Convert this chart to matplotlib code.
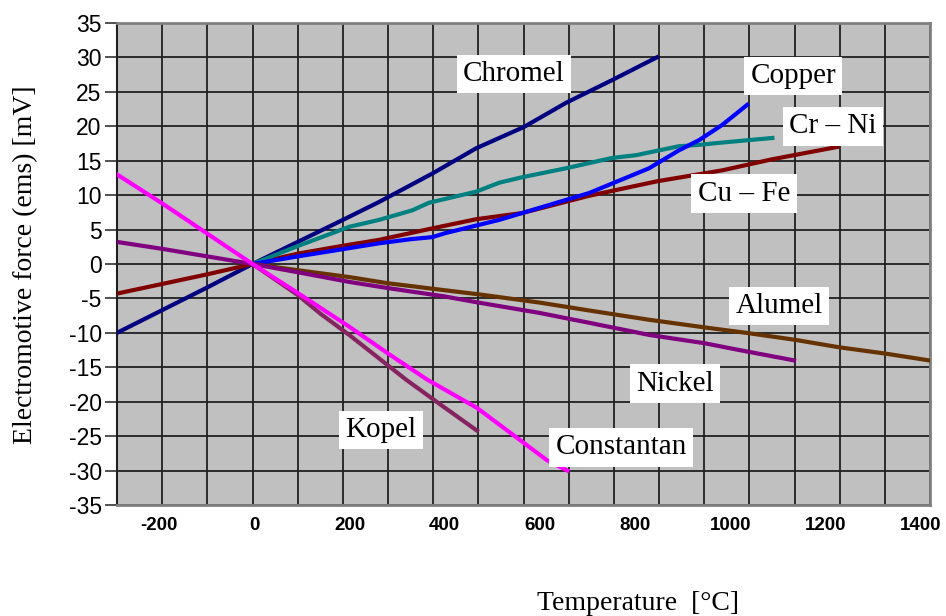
import matplotlib
matplotlib.use("Agg")
from matplotlib import pyplot as plt

# temperature [°C] / emf [mV]
chromel_t = [-300, -200, -100, 0, 100, 200, 280, 400, 495, 601, 694, 796, 895]
chromel_e = [-10.0, -6.7, -3.4, 0, 3.2, 6.4, 9.0, 13.2, 16.8, 19.9, 23.4, 26.7, 30.0]

copper_t = [0, 100, 214, 280, 350, 398, 428, 546, 597, 745, 878, 944, 989, 1040, 1095]
copper_e = [0, 1.1, 2.3, 3.0, 3.6, 3.9, 4.5, 6.4, 7.4, 10.3, 13.9, 16.5, 18.0, 20.2, 23.1]

crni_t = [0, 100, 214, 280, 354, 391, 495, 546, 597, 694, 796, 849, 944, 989, 1034, 1151]
crni_e = [0, 2.6, 5.4, 6.4, 7.8, 8.9, 10.5, 11.8, 12.6, 13.9, 15.4, 15.8, 17.1, 17.3, 17.6, 18.3]

cufe_t = [-300, -200, -100, 0, 100, 214, 280, 400, 495, 597, 745, 895, 1040, 1150, 1295]
cufe_e = [-4.3, -2.9, -1.5, 0, 1.5, 2.8, 3.5, 5.2, 6.5, 7.4, 9.9, 12.0, 13.6, 15.2, 17.0]

alumel_t = [0, 100, 214, 300, 424, 500, 635, 750, 878, 1000, 1093, 1200, 1299, 1400, 1498]
alumel_e = [0, -0.9, -1.9, -2.8, -3.8, -4.4, -5.6, -6.8, -8.1, -9.2, -10.0, -11.0, -12.1, -13.0, -14.0]

nickel_t = [-300, -200, -100, 0, 100, 214, 300, 424, 500, 635, 750, 878, 1000, 1078, 1199]
nickel_e = [3.2, 2.2, 1.1, 0, -1.2, -2.6, -3.5, -4.7, -5.6, -7.1, -8.6, -10.3, -11.5, -12.5, -14.0]

kopel_t = [0, 100, 150, 214, 340, 420, 497]
kopel_e = [0, -4.5, -7.2, -10.3, -16.8, -20.6, -24.2]

constantan_t = [-300, -200, -100, 0, 100, 214, 300, 387, 497, 652, 697]
constantan_e = [13.0, 8.8, 4.4, 0, -4.2, -9.1, -13.0, -16.8, -20.9, -28.5, -30.0]

# label text, position (t, emf)
labels = [
    ("Chromel", 579, 27.6),
    ("Copper", 1197, 27.3),
    ("Cr – Ni", 1285, 20.0),
    ("Cu – Fe", 1088, 10.2),
    ("Alumel", 1166, -6.1),
    ("Nickel", 935, -17.4),
    ("Kopel", 284, -24.1),
    ("Constantan", 816, -26.6),
]

x_ticks = list(range(-200, 1401, 200))
y_ticks = list(range(-35, 36, 5))

plt.rcParams["axes.unicode_minus"] = False
serif = ["Liberation Serif", "DejaVu Serif"]
sans = ["Liberation Sans", "DejaVu Sans"]

fig = plt.figure(figsize=(9.46, 6.16), dpi=100)
ax = fig.add_axes([0.1237, 0.1802, 0.8594, 0.7825])
ax.set_facecolor("#C0C0C0")

lw = 3
ax.plot(chromel_t, chromel_e, color="#000080", lw=lw, zorder=3)
ax.plot(cufe_t, cufe_e, color="#800000", lw=lw, zorder=3)
ax.plot(crni_t, crni_e, color="#008080", lw=lw, zorder=3)
ax.plot(copper_t, copper_e, color="#0000FF", lw=lw, zorder=3)
ax.plot(alumel_t, alumel_e, color="#663300", lw=lw, zorder=3)
ax.plot(nickel_t, nickel_e, color="#800080", lw=lw, zorder=3)
ax.plot(kopel_t, kopel_e, color="#862462", lw=lw, zorder=3)
ax.plot(constantan_t, constantan_e, color="#FF00FF", lw=lw, zorder=3)

for txt, x, y in labels:
    ax.text(x, y, txt, family=serif, fontsize=21, ha="center", va="center", zorder=5,
            bbox=dict(facecolor="white", edgecolor="none", boxstyle="square,pad=0.22"))

ax.set_xlim(-300, 1500)
ax.set_ylim(-35, 35)
ax.set_xticks(range(-300, 1501, 100))
ax.set_xticklabels([])
ax.set_yticks(y_ticks)
ax.set_yticklabels([str(v) for v in y_ticks], family=sans, fontsize=16.5)
ax.tick_params(axis="x", length=0)
ax.tick_params(axis="y", length=9, width=1.2, color="#333333", pad=2)
ax.grid(True, color="#202020", lw=1.3, zorder=1)
ax.set_axisbelow(True)
for s in ["top", "right", "bottom"]:
    ax.spines[s].set_color("#808080")
    ax.spines[s].set_linewidth(2)
ax.spines["left"].set_color("#202020")
ax.spines["left"].set_linewidth(1.5)

# tick labels sit on their own scale in the original
axl = ax.twiny()
axl.set_xlim(-288.6, 1419.7)
axl.xaxis.set_ticks_position("bottom")
axl.set_xticks(x_ticks)
axl.set_xticklabels([str(v) for v in x_ticks], family=sans, fontsize=13.5, fontweight="bold")
axl.tick_params(axis="x", length=0, pad=9)
for s in axl.spines.values():
    s.set_visible(False)

fig.text(0.027, 0.570, "Electromotive force (ems) [mV]", family=serif, fontsize=20,
         rotation=90, ha="center", va="center")
fig.text(0.674, 0.021, "Temperature  [°C]", family=serif, fontsize=20, ha="center", va="center")

plt.savefig("out.png", dpi=100)
